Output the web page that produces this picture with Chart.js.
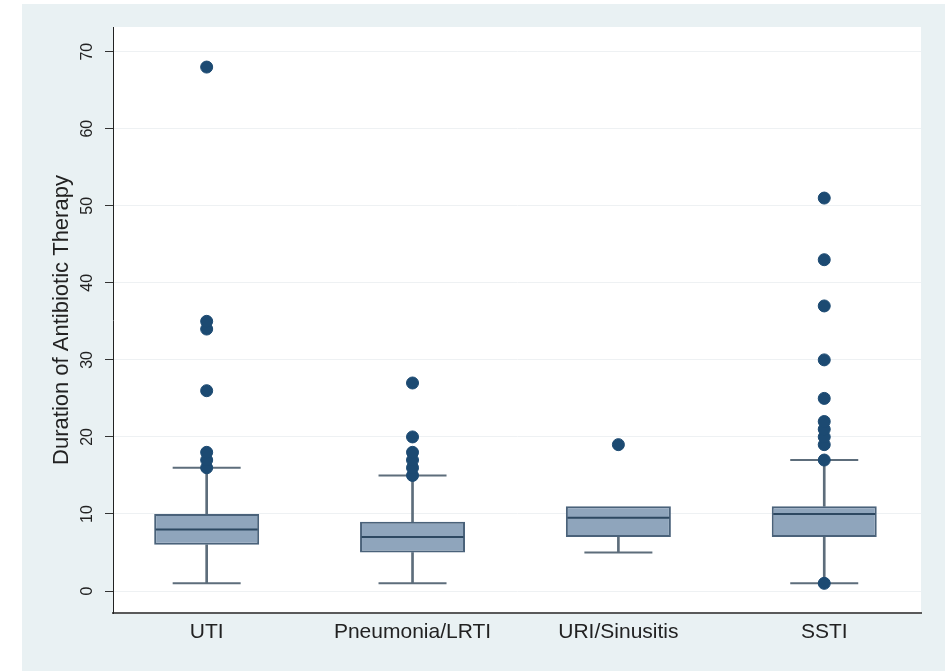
<!DOCTYPE html>
<html>
<head>
<meta charset="utf-8">
<title>Duration of Antibiotic Therapy</title>
<script src="https://cdn.jsdelivr.net/npm/chart.js@4.4.1/dist/chart.umd.min.js"></script>
<style>
  html, body { margin: 0; padding: 0; background: #ffffff; }
  #frame { position: absolute; left: 22px; top: 4px; width: 923px; height: 667px; background: #e9f1f3; }
  #wrap { position: absolute; left: 0; top: 0; width: 947px; height: 671px; }
</style>
</head>
<body>
<div id="frame"></div>
<div id="wrap"><canvas id="chart"></canvas></div>
<script>
// Infection groups along the x axis
const categories = ['UTI', 'Pneumonia/LRTI', 'URI/Sinusitis', 'SSTI'];

// Box summaries (days)
const q1 = [6, 5, 7, 7];
const median = [8, 7, 9.5, 10];
const q3 = [10, 9, 11, 11];
const whiskerLow = [1, 1, 5, 1];
const whiskerHigh = [16, 15, 11, 17];

// Points beyond the whiskers
const outliers = [
  [16, 17, 18, 26, 34, 35, 68],
  [15, 16, 17, 18, 20, 27],
  [19],
  [1, 17, 19, 20, 21, 22, 25, 30, 37, 43, 51]
];

const yTicks = [0, 10, 20, 30, 40, 50, 60, 70];

const FONT = '"Liberation Sans", Arial, Helvetica, sans-serif';
const WHISKER = '#5d6d7b';

const pos = categories.map((c, i) => i + 1);

const upperStem = pos.map((x, i) => ({ x, y: whiskerHigh[i] > q3[i] ? [q3[i], whiskerHigh[i]] : null }));
const lowerStem = pos.map((x, i) => ({ x, y: whiskerLow[i] < q1[i] ? [whiskerLow[i], q1[i]] : null }));
const boxes = pos.map((x, i) => ({ x, y: [q1[i], q3[i]] }));
const medians = pos.map((x, i) => ({ x, y: median[i] }));
const caps = [];
pos.forEach((x, i) => {
  if (whiskerLow[i] < q1[i]) caps.push({ x, y: whiskerLow[i] });
  if (whiskerHigh[i] > q3[i]) caps.push({ x, y: whiskerHigh[i] });
});
const outlierPts = [];
outliers.forEach((list, i) => list.forEach(v => outlierPts.push({ x: pos[i], y: v })));

// Paint the plot region white behind everything
const plotBackground = {
  id: 'plotBackground',
  beforeDraw(chart) {
    const { ctx, chartArea: a } = chart;
    ctx.save();
    ctx.fillStyle = '#ffffff';
    ctx.fillRect(a.left, a.top, a.right - a.left, a.bottom - a.top);
    ctx.restore();
  }
};

new Chart(document.getElementById('chart'), {
  type: 'bar',
  data: {
    datasets: [
      { type: 'bar', data: upperStem, grouped: false, barThickness: 2, backgroundColor: WHISKER, borderWidth: 0, order: 6 },
      { type: 'bar', data: lowerStem, grouped: false, barThickness: 2, backgroundColor: WHISKER, borderWidth: 0, order: 6 },
      { type: 'line', data: caps, showLine: false, pointStyle: 'line', pointRadius: 34, pointHoverRadius: 34,
        pointBorderColor: WHISKER, pointBorderWidth: 2, order: 5 },
      { type: 'bar', data: boxes, grouped: false, barPercentage: 0.51, categoryPercentage: 1,
        backgroundColor: '#8fa5bc', borderColor: '#4a627a', borderWidth: 2, borderSkipped: false, order: 4 },
      { type: 'line', data: medians, showLine: false, pointStyle: 'line', pointRadius: 51, pointHoverRadius: 51,
        pointBorderColor: '#2d4861', pointBorderWidth: 2, order: 3 },
      { type: 'line', data: outlierPts, showLine: false, pointStyle: 'circle', pointRadius: 6, pointHoverRadius: 6,
        pointBackgroundColor: '#1c4a72', pointBorderColor: '#1c4a72', pointBorderWidth: 1, order: 1 }
    ]
  },
  options: {
    responsive: true,
    maintainAspectRatio: false,
    animation: false,
    layout: { autoPadding: false, padding: { left: 40, top: 27, right: 26, bottom: 18 } },
    plugins: { legend: { display: false }, tooltip: { enabled: false } },
    scales: {
      x: {
        type: 'linear',
        min: 0.545,
        max: 4.47,
        offset: false,
        afterBuildTicks(s) { s.ticks = pos.map(v => ({ value: v })); },
        afterFit(s) { s.height = 40; },
        grid: { display: false, drawTicks: false, offset: false },
        border: { display: true, color: '#5a5a5a', width: 2 },
        ticks: {
          padding: 7,
          color: '#222222',
          font: { family: FONT, size: 21 },
          autoSkip: false,
          maxRotation: 0,
          callback: v => categories[v - 1]
        }
      },
      y: {
        type: 'linear',
        min: -2.85,
        max: 73.2,
        afterBuildTicks(s) { s.ticks = yTicks.map(v => ({ value: v })); },
        afterFit(s) { s.width = 73; },
        grid: { color: '#eef1f3', tickColor: '#333333', tickLength: 8, lineWidth: 1 },
        border: { display: true, color: '#222222', width: 1 },
        ticks: {
          minRotation: 90,
          maxRotation: 90,
          crossAlign: 'center',
          padding: 9,
          color: '#222222',
          font: { family: FONT, size: 16 }
        },
        title: {
          display: true,
          text: 'Duration of Antibiotic Therapy',
          color: '#222222',
          font: { family: FONT, size: 22 },
          padding: { top: 9, bottom: 0 }
        }
      }
    }
  },
  plugins: [plotBackground]
});
</script>
</body>
</html>
